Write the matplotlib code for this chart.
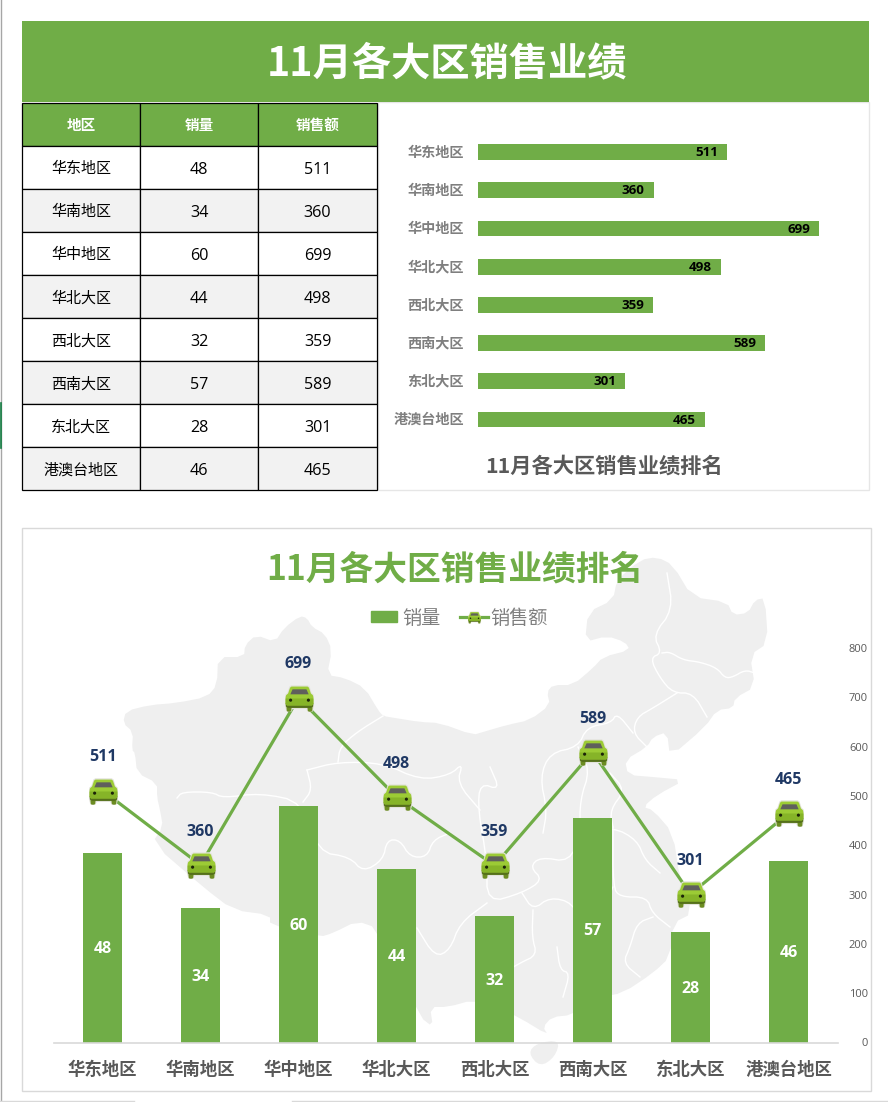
import matplotlib
matplotlib.use('Agg')
import matplotlib.pyplot as plt
from matplotlib.patches import Patch, Polygon, Rectangle
from matplotlib.lines import Line2D
from matplotlib.path import Path
from matplotlib.legend_handler import HandlerTuple, HandlerPatch
from matplotlib.transforms import ScaledTranslation

plt.rcParams['font.family'] = ['Noto Sans CJK SC', 'DejaVu Sans']

# data
regions = ['华东地区', '华南地区', '华中地区', '华北大区', '西北大区', '西南大区', '东北大区', '港澳台地区']
volume = [48, 34, 60, 44, 32, 57, 28, 46]
sales = [511, 360, 699, 498, 359, 589, 301, 465]
col_names = ['地区', '销量', '销售额']
sales_ticks = [0, 100, 200, 300, 400, 500, 600, 700, 800]
page_title = '11月各大区销售业绩'
chart_title = '11月各大区销售业绩排名'

GREEN = '#70ad47'
W, H = 888, 1102
num_font = ['Open Sans', 'DejaVu Sans']


def px_axes(x0, y0, x1, y1, **kw):
    # axes from pixel box (y counted from the top)
    return fig.add_axes([x0/W, 1 - y1/H, (x1 - x0)/W, (y1 - y0)/H], **kw)


def soften(pts, closed=False, n=1):
    # corner cutting, takes the hard edges off the traced outlines
    for _ in range(n):
        out = [] if closed else [pts[0]]
        m = len(pts) if closed else len(pts) - 1
        for i in range(m):
            a, b = pts[i], pts[(i + 1) % len(pts)]
            out.append((a[0]*0.75 + b[0]*0.25, a[1]*0.75 + b[1]*0.25))
            out.append((a[0]*0.25 + b[0]*0.75, a[1]*0.25 + b[1]*0.75))
        if not closed:
            out.append(pts[-1])
        pts = out
    return pts


fig = plt.figure(figsize=(W/100, H/100), dpi=100)

# background layer in pixels: frames, header, map
bg = px_axes(0, 0, W, H)
bg.set_xlim(0, W)
bg.set_ylim(H, 0)
bg.axis('off')

bg.plot([0.5, 0.5], [0, H], color='#a6a6a6', lw=1)
bg.plot([0.5, 0.5], [403, 448], color='#107c41', lw=1.2)
bg.plot([0, 134], [1101, 1101], color='#d9d9d9', lw=1)
bg.plot([292, W], [1101, 1101], color='#d9d9d9', lw=1)
bg.add_patch(Rectangle((378, 102), 491, 388, fc='white', ec='#e6e6e6', lw=1))
bg.add_patch(Rectangle((22, 528), 849, 563, fc='white', ec='#d9d9d9', lw=1))
bg.add_patch(Rectangle((22, 21), 847, 81, fc=GREEN, ec='none'))
bg.text(447, 63.5, page_title, color='white', fontsize=28.3, fontweight='bold', ha='center', va='center')

# map of China behind the lower chart, traced roughly
map_outline = [
    (123, 723), (126, 711), (150, 705), (176, 703), (207, 697), (217, 685), (218, 657), (244, 657),
    (245, 645), (256, 635), (275, 642), (284, 628), (300, 616), (307, 618), (312, 627), (325, 634),
    (332, 650), (327, 675), (345, 678), (365, 688), (378, 710), (383, 716), (395, 718), (420, 722),
    (440, 723), (473, 735), (483, 732), (507, 725), (530, 720), (550, 705), (547, 692), (553, 685),
    (573, 685), (593, 668), (603, 657), (630, 650), (625, 642), (607, 636), (585, 642), (588, 612),
    (613, 600), (617, 580), (640, 560), (657, 557), (673, 565), (692, 597), (727, 602), (733, 615),
    (748, 613), (755, 600), (765, 598), (768, 643), (750, 655), (755, 687), (735, 698), (733, 708),
    (717, 710), (705, 727), (670, 757), (667, 732), (653, 737), (647, 747), (625, 760), (628, 775),
    (653, 777), (685, 780), (657, 795), (643, 807), (653, 810), (673, 833), (680, 880), (693, 913),
    (673, 923), (670, 957), (653, 973), (623, 993), (600, 997), (572, 1015), (552, 1017), (543, 1027),
    (548, 1035), (520, 1018), (497, 1007), (473, 1000), (448, 1007), (430, 1007), (433, 1027),
    (420, 1017), (377, 928), (357, 921), (333, 933), (320, 937), (270, 925), (270, 915), (233, 910),
    (203, 887), (152, 843), (163, 827), (160, 810), (157, 797), (157, 783), (137, 773), (135, 753),
    (132, 750), (133, 732),
]
hainan = [(528, 1053), (537, 1043), (560, 1040), (555, 1057), (540, 1067)]
bg.add_patch(Polygon(soften(map_outline, closed=True), closed=True, fc='#efefef', ec='none'))
bg.add_patch(Polygon(soften(hainan, closed=True, n=2), closed=True, fc='#efefef', ec='none'))

borders = [
    [(177, 798), (182, 792), (212, 792), (223, 798), (260, 793), (303, 802), (318, 852), (350, 857),
     (363, 872), (383, 860), (387, 840), (400, 840), (410, 857), (427, 857), (433, 840), (450, 833)],
    [(307, 770), (338, 762), (383, 763), (420, 780), (450, 775), (463, 763), (457, 783), (480, 810)],
    [(338, 762), (340, 747), (357, 732), (383, 716)],
    [(307, 770), (312, 790), (303, 802)],
    [(667, 573), (673, 610), (653, 635), (662, 653), (650, 658), (660, 678), (673, 693), (693, 693), (707, 717)],
    [(662, 653), (670, 652), (683, 660), (700, 662), (717, 668), (725, 678), (733, 677), (745, 670), (755, 673)],
    [(677, 693), (653, 708), (637, 717), (633, 733), (647, 747)],
    [(633, 733), (617, 713), (611, 723), (587, 727), (578, 747), (550, 753), (540, 777), (547, 810), (543, 833)],
    [(490, 767), (500, 790), (480, 783), (478, 810), (487, 860), (487, 903), (522, 893), (543, 880),
     (530, 867), (540, 857), (570, 862), (580, 833), (613, 827), (637, 840), (645, 860), (660, 873)],
    [(613, 827), (613, 887), (620, 897), (647, 897), (652, 913), (670, 927)],
    [(653, 917), (637, 923), (630, 947), (623, 963), (640, 977)],
    [(522, 893), (533, 910), (550, 897), (573, 903), (580, 925), (600, 915), (613, 887)],
    [(533, 910), (532, 937), (537, 955), (520, 963), (500, 975)],
    [(557, 947), (560, 970), (570, 973), (563, 997)],
    [(417, 928), (435, 957), (450, 950), (460, 923), (487, 903)],
    [(578, 747), (590, 770), (580, 800), (580, 833)],
    [(610, 773), (625, 790), (610, 810), (613, 827)],
]
for b in borders:
    b = soften(b, n=2)
    bg.plot([p[0] for p in b], [p[1] for p in b], color='white', lw=1, zorder=2)

# table
ax_tab = px_axes(22, 103, 376.6, 490.4)
ax_tab.axis('off')
rows = [[r, str(v), str(s)] for r, v, s in zip(regions, volume, sales)]
tab = ax_tab.table(cellText=rows, colLabels=col_names, cellLoc='center', bbox=[0, 0, 1, 1])
tab.auto_set_font_size(False)
for (r, c), cell in tab.get_celld().items():
    cell.set_edgecolor('black')
    cell.set_linewidth(0.9)
    txt = cell.get_text()
    if r == 0:
        cell.set_facecolor(GREEN)
        txt.set_color('white')
        txt.set_fontweight('bold')
        txt.set_fontsize(10.5)
    else:
        cell.set_facecolor('#f2f2f2' if r % 2 == 0 else 'white')
        txt.set_fontsize(10.8)
        txt.set_verticalalignment('center_baseline')
        if c > 0:
            txt.set_family(num_font)
            txt.set_fontsize(11.6)

# ranking bars, top right
ax_rank = px_axes(478, 133, 868, 438.6)
ax_rank.patch.set_alpha(0)
ypos = range(len(regions))
ax_rank.barh(ypos, sales, height=0.41, color=GREEN)
ax_rank.set_xlim(0, 800)
ax_rank.set_ylim(len(regions) - 0.5, -0.5)
ax_rank.set_yticks(list(ypos))
ax_rank.set_yticklabels(regions, fontsize=10.2, fontweight='bold', color='#7f7f7f', va='center_baseline')
ax_rank.set_xticks([])
ax_rank.tick_params(axis='y', length=0, pad=10)
up_1px = ScaledTranslation(0, 0.72/72, fig.dpi_scale_trans)
for lab in ax_rank.get_yticklabels():
    lab.set_transform(lab.get_transform() + up_1px)
for s in ax_rank.spines.values():
    s.set_visible(False)
for i, v in enumerate(sales):
    ax_rank.annotate(str(v), (v, i), xytext=(-6.3, -0.5), textcoords='offset points', ha='right', va='center',
                     fontsize=9.6, fontweight='bold', color='black', family=num_font)
bg.text(604, 466.5, chart_title, color='#595959', fontsize=15.3, fontweight='bold', ha='center', va='center')

# lower chart
bg.text(455, 569.5, chart_title, color=GREEN, fontsize=24.3, fontweight='bold', ha='center', va='center')

ax = px_axes(53.5, 648, 837.5, 1042.5)
ax.patch.set_alpha(0)
x = list(range(len(regions)))
bars = ax.bar(x, volume, width=0.398, color=GREEN, zorder=2)
ax.set_xlim(-0.5, len(regions) - 0.5)
ax.set_ylim(0, 100)
ax.set_yticks([])
ax.set_xticks(x)
ax.set_xticklabels(regions, fontsize=12.5, fontweight='bold', color='#595959')
ax.tick_params(axis='x', length=0, pad=13)
for name in ['top', 'left', 'right']:
    ax.spines[name].set_visible(False)
ax.spines['bottom'].set_color('#d9d9d9')
ax.spines['bottom'].set_linewidth(1.2)
for i, v in enumerate(volume):
    ax.annotate(str(v), (i, v/2), xytext=(0, -1), textcoords='offset points', ha='center', va='center',
                color='white', fontsize=11.5, fontweight='bold', family=num_font, zorder=5)

ax2 = ax.twinx()
ax2.set_ylim(0, 800)
ax2.set_yticks(sales_ticks)
ax2.tick_params(axis='y', length=0, pad=22, labelsize=8, labelcolor='#595959')
for lab in ax2.get_yticklabels():
    lab.set_ha('right')
    lab.set_family(num_font)
for s in ax2.spines.values():
    s.set_visible(False)


def car_part(verts):
    # the far corner point keeps every part on the same marker scale
    codes = [Path.MOVETO] + [Path.LINETO] * (len(verts) - 1) + [Path.MOVETO, Path.LINETO]
    return Path(list(verts) + [(1.05, 1.05), (1.05, 1.05)], codes)


def dot_at(cx, r=0.12, cy=-0.12):
    return [(cx - r, cy), (cx - r*0.7, cy + r*0.7), (cx, cy + r), (cx + r*0.7, cy + r*0.7),
            (cx + r, cy), (cx + r*0.7, cy - r*0.7), (cx, cy - r), (cx - r*0.7, cy - r*0.7)]


halo = [(-0.6, 0.98), (0.6, 0.98), (0.74, 0.9), (0.9, 0.42), (1.06, 0.28), (1.08, -0.6), (0.96, -0.98), (0.6, -0.98),
        (0.5, -0.78), (-0.5, -0.78), (-0.6, -0.98), (-0.96, -0.98), (-1.08, -0.6), (-1.06, 0.28), (-0.9, 0.42),
        (-0.74, 0.9)]
tyres = [(-0.95, -0.5), (-0.55, -0.5), (-0.6, -0.9), (-0.68, -0.95), (-0.85, -0.95), (-0.92, -0.88)]
tyres2 = [(-px, py) for px, py in tyres]
under = [(-1, -0.35), (1, -0.35), (0.98, -0.58), (0.8, -0.68), (-0.8, -0.68), (-0.98, -0.58)]
body = [(-0.58, 0.86), (0.58, 0.86), (0.68, 0.78), (0.82, 0.36), (0.96, 0.24), (1, 0.1), (1, -0.38), (0.9, -0.5),
        (-0.9, -0.5), (-1, -0.38), (-1, 0.1), (-0.96, 0.24), (-0.82, 0.36), (-0.68, 0.78)]
lower = [(-1, 0.0), (1, 0.0), (1, -0.38), (0.9, -0.5), (-0.9, -0.5), (-1, -0.38)]
glass = [(-0.5, 0.66), (0.5, 0.66), (0.66, 0.3), (-0.66, 0.3)]
car_layers = [
    (car_part(halo), '#e3e3dc'),
    (car_part(tyres), '#6c8c22'),
    (car_part(tyres2), '#6c8c22'),
    (car_part(under), '#55701a'),
    (car_part(body), '#9ccb35'),
    (car_part(lower), '#86b428'),
    (car_part(glass), '#5f5f5c'),
    (car_part(dot_at(-0.64)), '#1c2408'),
    (car_part(dot_at(0.64)), '#1c2408'),
]

ax2.plot(x, sales, color=GREEN, lw=2.3, zorder=3, solid_capstyle='round')
for mk, col in car_layers:
    ax2.plot(x, sales, ls='none', marker=mk, ms=21, mfc=col, mew=0, zorder=4)
for i, v in enumerate(sales):
    ax2.annotate(str(v), (i, v), xytext=(0, 24), textcoords='offset points', ha='center', va='center',
                 fontsize=11.5, fontweight='bold', color='#1f3864', family=num_font)


def short_swatch(legend, orig_handle, xdescent, ydescent, width, height, fontsize):
    # bar swatch is a bit shorter than the line sample
    return Rectangle((-xdescent, -ydescent), 18.7, height)


# legend with the small car on the line
line_h = Line2D([], [], color=GREEN, lw=2.3)
car_h = [Line2D([], [], ls='none', marker=mk, ms=9.5, mfc=col, mew=0) for mk, col in car_layers]
swatch = Patch(color=GREEN)
fig.legend([swatch, tuple([line_h] + car_h)], ['销量', '销售额'],
           handler_map={tuple: HandlerTuple(ndivide=1, pad=0), swatch: HandlerPatch(patch_func=short_swatch)},
           loc='center', bbox_to_anchor=(459.5/W, 1 - 618/H), ncol=2, frameon=False,
           prop={'size': 13.8}, labelcolor='#7f7f7f', handlelength=1.5, handleheight=0.5,
           handletextpad=0.1, columnspacing=1.0)

fig.savefig('out.png', dpi=100)
